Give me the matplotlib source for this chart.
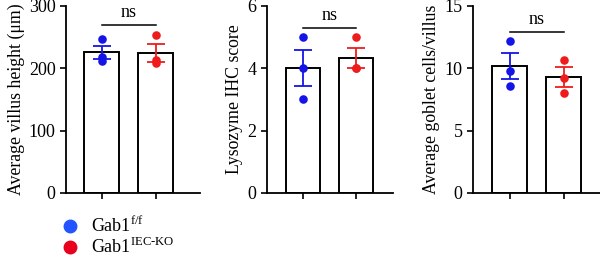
import numpy as np
import matplotlib
matplotlib.use("Agg")
import matplotlib.pyplot as plt
from matplotlib.lines import Line2D

plt.rcParams['font.family'] = ['Liberation Serif', 'DejaVu Serif']
plt.rcParams['mathtext.fontset'] = 'custom'
plt.rcParams['mathtext.rm'] = 'Liberation Serif'

# data
groups = [r"Gab1$^{\mathrm{f/f}}$", r"Gab1$^{\mathrm{IEC\text{-}KO}}$"]
villus_ff = [247, 218, 212]
villus_ko = [254, 213, 208]
lyso_ff = [5, 4, 3]
lyso_ko = [5, 4, 4]
goblet_ff = [12.2, 9.8, 8.6]
goblet_ko = [10.7, 9.25, 8.0]

ylabels = ["Average villus height (\u03bcm)", "Lysozyme IHC score",
           "Average goblet cells/villus"]
ylims = [300, 6, 15]
yticks = [[0, 100, 200, 300], [0, 2, 4, 6], [0, 5, 10, 15]]
ns_y = [270, 5.3, 12.9]

blue = "#1414e6"
red = "#ee1c1c"

fig = plt.figure(figsize=(6, 2.58), dpi=100)
positions = [[0.110, 0.252, 0.223, 0.725],
             [0.445, 0.252, 0.210, 0.725],
             [0.788, 0.252, 0.212, 0.725]]
xlims = [(-0.667, 1.815), (-0.68, 1.70), (-0.69, 1.68)]
data = [(villus_ff, villus_ko), (lyso_ff, lyso_ko), (goblet_ff, goblet_ko)]

for i in range(3):
    ax = fig.add_axes(positions[i])
    for j, (vals, col) in enumerate(zip(data[i], [blue, red])):
        vals = np.array(vals, dtype=float)
        m = vals.mean()
        sem = vals.std(ddof=1) / np.sqrt(len(vals))
        ax.bar(j, m, width=0.65, color='white', edgecolor='black', linewidth=1.4, zorder=1)
        ax.errorbar(j, m, yerr=sem, color=col, capsize=6.5, elinewidth=1.3,
                    capthick=1.3, zorder=3)
        ax.scatter([j] * len(vals), vals, s=38, color=col, zorder=4, linewidths=0)
    ax.plot([0, 1], [ns_y[i], ns_y[i]], color='black', lw=1.1)
    ax.text(0.5, ns_y[i] + ylims[i] * 0.02, "ns", ha='center', va='bottom', fontsize=13)
    ax.set_xlim(*xlims[i])
    ax.set_ylim(0, ylims[i])
    ax.set_yticks(yticks[i])
    ax.set_xticks([0, 1])
    ax.set_xticklabels([])
    ax.tick_params(axis='both', width=1.2, length=4, labelsize=13)
    ax.spines['top'].set_visible(False)
    ax.spines['right'].set_visible(False)
    ax.spines['left'].set_linewidth(1.3)
    ax.spines['bottom'].set_linewidth(1.3)
    ax.set_ylabel(ylabels[i], fontsize=12.8, labelpad=3)

handles = [Line2D([], [], marker='o', ls='', color='#2255ff', markersize=9),
           Line2D([], [], marker='o', ls='', color='#e8001c', markersize=9)]
fig.legend(handles, groups, loc='lower left', bbox_to_anchor=(0.065, -0.045),
           frameon=False, fontsize=13, handletextpad=0.2, labelspacing=0.05,
           borderpad=0.2)

fig.savefig("out.png", dpi=100)
